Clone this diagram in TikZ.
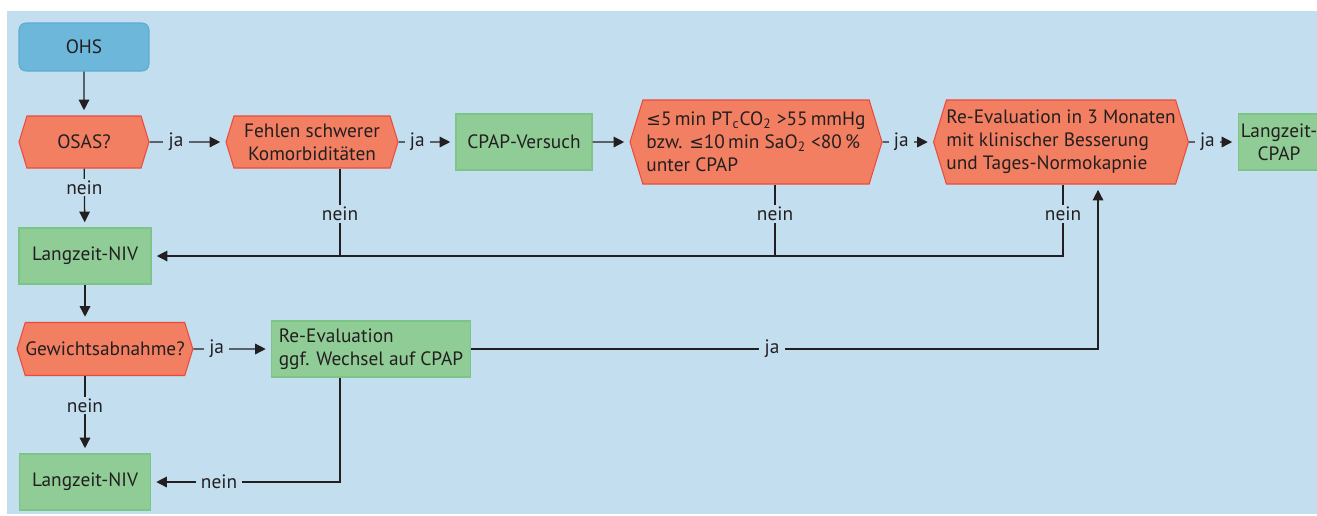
\documentclass[tikz,border=0pt]{standalone}
\usepackage{fontspec}
\setmainfont{PT Sans}
\newfontfamily\symfont{DejaVu Sans}[Scale=0.9]
\newcommand\lesym{{\symfont ≤}}
\usetikzlibrary{arrows.meta,shapes.symbols}

\definecolor{bgblue}{HTML}{C2DEEF}
\definecolor{ohsfill}{HTML}{6DB8DA}
\definecolor{ohsedge}{HTML}{5AADD3}
\definecolor{hexfill}{HTML}{F37F62}
\definecolor{hexedge}{HTML}{EC4B3C}
\definecolor{boxfill}{HTML}{90CD96}
\definecolor{boxedge}{HTML}{7DC487}
\definecolor{ink}{HTML}{231F20}

\begin{document}
\begin{tikzpicture}[x=0.02cm, y=-0.02cm,
  font={\fontsize{11}{13}\selectfont}, text=ink,
  startbox/.style={draw=ohsedge, fill=ohsfill, rounded corners=4pt, line width=0.6pt,
    minimum width=2.6cm, minimum height=0.96cm},
  askhex/.style={signal, signal to=west and east, signal pointer angle=146,
    draw=hexedge, fill=hexfill, line width=0.6pt, inner sep=0pt, align=left},
  todobox/.style={draw=boxedge, fill=boxfill, line width=0.6pt, inner sep=0pt, align=left},
  link/.style={draw=ink, line width=0.75pt},
  arr/.style={link, -{Triangle[length=6pt,width=6pt]}, shorten >=3pt},
  answer/.style={fill=bgblue, inner xsep=3pt, inner ysep=1pt, text=ink}]

\useasboundingbox (0,0) rectangle (1317,515);
\fill[bgblue] (7,11) rectangle (1317,514);

% first row
\node [startbox] (ohs) at (84,47) {OHS};
\node [askhex, minimum width=2.6cm, minimum height=1.04cm] (osas) at (84,142) {OSAS?};
\node [askhex, minimum width=3.44cm, minimum height=1.04cm, align=center] (fehlen)
  at (312,142) {Fehlen schwerer\\Komorbiditäten};
\node [todobox, minimum width=2.72cm, minimum height=1.12cm] (cpap) at (524,142) {CPAP-Versuch};
\node [askhex, minimum width=5.04cm, minimum height=1.68cm] (ptco) at (756,142)
  {\lesym5\,min PT\textsubscript{c}CO\textsubscript{2} >55\,mmHg\\
   bzw. \lesym10\,min SaO\textsubscript{2} <80\,\%\\
   unter CPAP};
\node [askhex, minimum width=4.88cm, minimum height=1.68cm] (reeval) at (1061,142)
  {Re-Evaluation in 3 Monaten\\mit klinischer Besserung\\und Tages-Normokapnie};
\node [todobox, minimum width=1.64cm, minimum height=1.12cm, align=center] (lcpap)
  at (1279,142) {Langzeit-\\CPAP};

% left column
\node [todobox, minimum width=2.64cm, minimum height=1.12cm] (niv1) at (85,256) {Langzeit-NIV};
\node [askhex, minimum width=3.44cm, minimum height=1.06cm] (gewicht) at (105,349) {Gewichtsabnahme?};
\node [todobox, minimum width=3.98cm, minimum height=1.12cm] (reevg) at (371,349)
  {Re-Evaluation\\ggf. Wechsel auf CPAP};
\node [todobox, minimum width=2.62cm, minimum height=1.12cm] (niv2) at (85,482) {Langzeit-NIV};

\coordinate (jf) at (340,256);
\coordinate (jp) at (775,256);
\coordinate (jr) at (1063,256);
\coordinate (ju) at (1098,349);
\coordinate (jb) at (340,482);

% connectors
\draw[arr] (ohs) -- (osas);
\draw[arr] (osas) -- node[answer, pos=0.35]{ja} (fehlen);
\draw[arr] (fehlen) -- node[answer, pos=0.33]{ja} (cpap);
\draw[arr] (cpap) -- (ptco);
\draw[arr] (ptco) -- node[answer, pos=0.37]{ja} (reeval);
\draw[arr] (reeval) -- node[answer, pos=0.38]{ja} (lcpap);
\draw[arr] (osas) -- node[answer, pos=0.32]{nein} (niv1);

\draw[link] (fehlen.south -| jf) -- node[answer, pos=0.52]{nein} (jf);
\draw[link] (ptco.south -| jp) -- node[answer, pos=0.41]{nein} (jp);
\draw[arr] (reeval.south -| jr) -- node[answer, pos=0.41]{nein} (jr) -- (jr -| niv1.east);

\draw[arr] (niv1) -- (niv1 |- gewicht.north);
\draw[arr] (gewicht) -- node[answer, pos=0.3]{ja} (reevg);
\draw[arr] (reevg) -- node[answer, pos=0.48]{ja} (ju) -- (ju |- reeval.south);
\draw[arr] (gewicht.south -| niv2) -- node[answer, pos=0.38]{nein} (niv2);
\draw[arr] (reevg.south -| jb) -- (jb) -- node[answer, pos=0.64]{nein} (jb -| niv2.east);

\end{tikzpicture}
\end{document}
